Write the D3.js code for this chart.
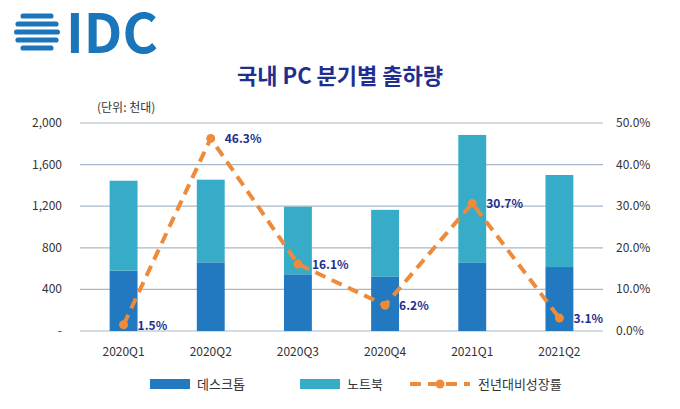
<!DOCTYPE html>
<html lang="en">
<head>
<meta charset="UTF-8">
<script src="https://d3js.org/d3.v7.min.js"></script>
<style>
  body { margin: 0; background: #fff; }
  text { font-family: "Noto Sans CJK KR", "Noto Sans", sans-serif; }
</style>
</head>
<body>
<svg id="chart" width="680" height="409"></svg>
<script>
let quarters = ['2020Q1', '2020Q2', '2020Q3', '2020Q4', '2021Q1', '2021Q2'];
let desktop = [580, 660, 545, 525, 655, 615];
let notebook = [865, 795, 650, 640, 1230, 885];
let growth = [1.5, 46.3, 16.1, 6.2, 30.7, 3.1];
let leftTicks = [0, 400, 800, 1200, 1600, 2000];
let rightTicks = [0, 10, 20, 30, 40, 50];

let svg = d3.select('#chart');
let plotLeft = 80, plotRight = 603, plotTop = 123, plotBottom = 331;

let x = d3.scaleBand().domain(quarters).range([plotLeft, plotRight]).paddingInner(0.68).paddingOuter(0.34);
let y = d3.scaleLinear().domain([0, 2000]).range([plotBottom, plotTop]);
let y2 = d3.scaleLinear().domain([0, 50]).range([plotBottom, plotTop]);

// logo
let logo = svg.append('g');
let cx = 37, cy = 32, r = 23;
[-16, -8, 0, 8, 16].forEach(function (dy) {
  let hw = Math.sqrt(Math.max(0, r * r - dy * dy));
  logo.append('rect').attr('x', cx - hw).attr('y', cy + dy - 2.6).attr('width', hw * 2).attr('height', 5.2)
    .attr('rx', 2.6).attr('fill', '#1b75bb');
});
logo.append('text').attr('x', 66).attr('y', 53).attr('font-size', 54).attr('font-weight', 'bold')
  .attr('font-family', 'Liberation Sans, Arial, sans-serif').attr('fill', '#1b75bb').text('IDC');

svg.append('text').attr('x', 340).attr('y', 84).attr('text-anchor', 'middle').attr('font-size', 22)
  .attr('font-weight', 'bold').attr('fill', '#1f2f8f').text('국내 PC 분기별 출하량');
svg.append('text').attr('x', 97).attr('y', 112).attr('font-size', 12).attr('fill', '#333').text('(단위: 천대)');

// grid
svg.selectAll('.grid').data(leftTicks).enter().append('line')
  .attr('x1', plotLeft).attr('x2', plotRight).attr('y1', d => y(d)).attr('y2', d => y(d))
  .attr('stroke', '#a9b8c8').attr('stroke-width', 1.2);

svg.selectAll('.lt').data(leftTicks).enter().append('text')
  .attr('x', 62).attr('y', d => y(d) + 4).attr('text-anchor', 'end').attr('font-size', 12).attr('fill', '#333')
  .text(d => d === 0 ? '-' : d3.format(',')(d));
svg.selectAll('.rt').data(rightTicks).enter().append('text')
  .attr('x', 616).attr('y', d => y2(d) + 4).attr('font-size', 12).attr('fill', '#333')
  .text(d => d.toFixed(1) + '%');
svg.selectAll('.xt').data(quarters).enter().append('text')
  .attr('x', d => x(d) + x.bandwidth() / 2).attr('y', 356).attr('text-anchor', 'middle')
  .attr('font-size', 12).attr('fill', '#333').text(d => d);

// bars
svg.selectAll('.desk').data(quarters).enter().append('rect')
  .attr('x', d => x(d)).attr('width', x.bandwidth())
  .attr('y', (d, i) => y(desktop[i])).attr('height', (d, i) => plotBottom - y(desktop[i]))
  .attr('fill', '#2279bf');
svg.selectAll('.note').data(quarters).enter().append('rect')
  .attr('x', d => x(d)).attr('width', x.bandwidth())
  .attr('y', (d, i) => y(desktop[i] + notebook[i])).attr('height', (d, i) => y(desktop[i]) - y(desktop[i] + notebook[i]))
  .attr('fill', '#36acc8');

// growth line
let line = d3.line().x((d, i) => x(quarters[i]) + x.bandwidth() / 2).y(d => y2(d));
svg.append('path').datum(growth).attr('d', line).attr('fill', 'none')
  .attr('stroke', '#ee8b3a').attr('stroke-width', 4).attr('stroke-dasharray', '11,7');
svg.selectAll('.pt').data(growth).enter().append('circle')
  .attr('cx', (d, i) => x(quarters[i]) + x.bandwidth() / 2).attr('cy', d => y2(d)).attr('r', 4.5)
  .attr('fill', '#ee8b3a');
svg.selectAll('.lbl').data(growth).enter().append('text')
  .attr('x', (d, i) => x(quarters[i]) + x.bandwidth() / 2 + 14).attr('y', d => y2(d) + 5)
  .attr('font-size', 12).attr('font-weight', 'bold').attr('fill', '#1f2f8f')
  .text(d => d.toFixed(1) + '%');

// legend
let lg = svg.append('g');
lg.append('rect').attr('x', 150).attr('y', 379).attr('width', 40).attr('height', 10).attr('fill', '#2279bf');
lg.append('text').attr('x', 197).attr('y', 389).attr('font-size', 13).attr('fill', '#333').text('데스크톱');
lg.append('rect').attr('x', 300).attr('y', 379).attr('width', 40).attr('height', 10).attr('fill', '#36acc8');
lg.append('text').attr('x', 347).attr('y', 389).attr('font-size', 13).attr('fill', '#333').text('노트북');
lg.append('line').attr('x1', 410).attr('x2', 470).attr('y1', 384).attr('y2', 384)
  .attr('stroke', '#ee8b3a').attr('stroke-width', 4).attr('stroke-dasharray', '11,7');
lg.append('circle').attr('cx', 440).attr('cy', 384).attr('r', 4.5).attr('fill', '#ee8b3a');
lg.append('text').attr('x', 478).attr('y', 389).attr('font-size', 13).attr('fill', '#333').text('전년대비성장률');
</script>
</body>
</html>
